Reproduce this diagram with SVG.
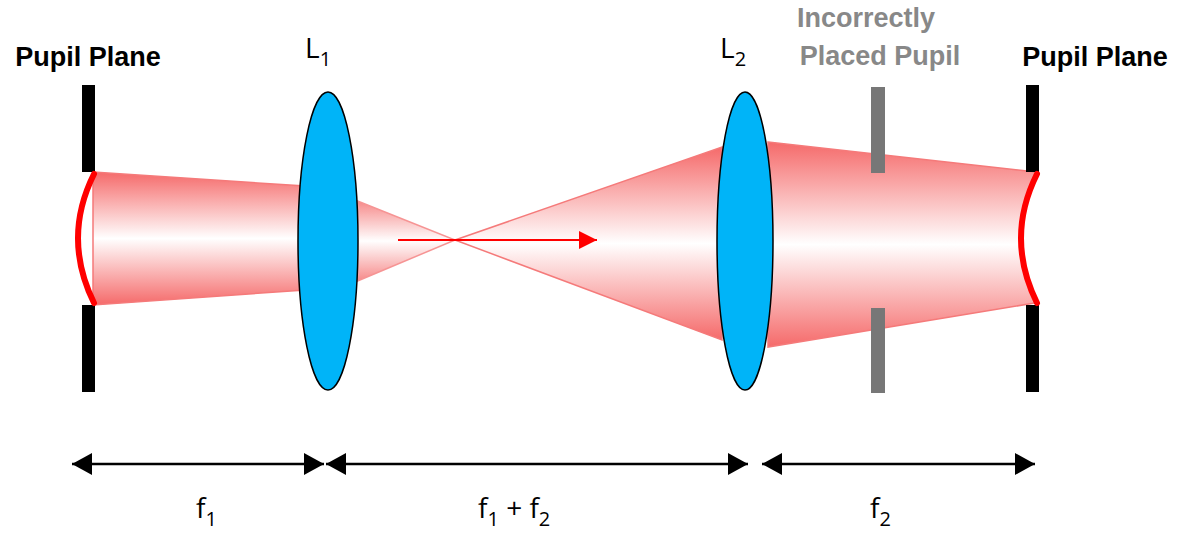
<svg xmlns="http://www.w3.org/2000/svg" width="1181" height="544" viewBox="0 0 1181 544">
<style>
.lbl{font-family:"Open Sans","Liberation Sans",sans-serif;font-size:28px;fill:#000}
.b{font-family:"Liberation Sans",Arial,sans-serif;font-weight:bold;font-size:27px}
.g{fill:#888}
.dim{stroke:#000;stroke-width:2.5;marker-start:url(#ah);marker-end:url(#ah)}
.lens{fill:#00b4f8;stroke:#000;stroke-width:1.5}
.bar{fill:#000}
.gbar{fill:#777}
.arc{fill:none;stroke:#f00;stroke-width:6;stroke-linecap:round}
</style>
<defs>
<marker id="ah" viewBox="0 0 10 10" refX="10" refY="5" markerWidth="20" markerHeight="22" orient="auto-start-reverse" markerUnits="userSpaceOnUse" preserveAspectRatio="none"><path d="M0,0L10,5L0,10z" fill="#000"/></marker>
<marker id="ra" viewBox="0 0 10 10" refX="10" refY="5" markerWidth="18" markerHeight="18" orient="auto" markerUnits="userSpaceOnUse"><path d="M0,0L10,5L0,10z" fill="#f00"/></marker>
<linearGradient id="beam" x1="0" y1="0" x2="0" y2="1">
<stop offset="0" stop-color="#f56a6a"/><stop offset="0.5" stop-color="#fff"/><stop offset="1" stop-color="#f56a6a"/></linearGradient>
</defs>
<g id="beams">
<polygon points="93,172 305,186 305,290 93,305" fill="url(#beam)" stroke="#f57a7a" stroke-width="1.5"/>
<polygon points="355,200 455,240 355,282" fill="url(#beam)" stroke="#f57a7a" stroke-width="1.5" opacity="0.8"/>
<polygon points="455,240 722,147 722,340" fill="url(#beam)" stroke="#f57a7a" stroke-width="1.5"/>
<path d="M768,142 L1035,172 Q1010,238 1035,303 L768,347z" fill="url(#beam)" stroke="#f57a7a" stroke-width="1.5"/>
</g>
<g id="pupil-left"><rect class="bar" x="82" y="85" width="13" height="87"/><rect class="bar" x="82" y="305" width="13" height="87"/><path class="arc" d="M94,174 Q62,238 94,303"/></g>
<g id="pupil-right"><rect class="bar" x="1026" y="85" width="13" height="87"/><rect class="bar" x="1026" y="305" width="13" height="87"/><path class="arc" d="M1037,174 Q1005,238 1037,303"/></g>
<g id="incorrect-pupil"><rect class="gbar" x="871" y="87" width="14" height="86"/><rect class="gbar" x="871" y="308" width="14" height="85"/></g>
<g id="L1"><ellipse class="lens" cx="328" cy="241" rx="30" ry="149"/></g>
<g id="L2"><ellipse class="lens" cx="745" cy="241" rx="28" ry="149"/></g>
<g id="connectors">
<line x1="398" y1="240" x2="597" y2="240" stroke="#f00" stroke-width="2" marker-end="url(#ra)"/>
<line class="dim" x1="72" y1="464" x2="324" y2="464"/>
<line class="dim" x1="326" y1="464" x2="748" y2="464"/>
<line class="dim" x1="762" y1="464" x2="1035" y2="464"/>
</g>
<g id="labels">
<text class="lbl b" x="88" y="66" text-anchor="middle">Pupil Plane</text>
<text class="lbl b" x="1095" y="66" text-anchor="middle">Pupil Plane</text>
<text class="lbl" x="305" y="58">L<tspan font-size="20" dy="8">1</tspan></text>
<text class="lbl" x="720" y="58">L<tspan font-size="20" dy="8">2</tspan></text>
<text class="lbl b g" x="866" y="27" text-anchor="middle">Incorrectly</text>
<text class="lbl b g" x="880" y="65" text-anchor="middle">Placed Pupil</text>
<text class="lbl" x="196" y="518">f<tspan font-size="20" dy="8">1</tspan></text>
<text class="lbl" x="478" y="518">f<tspan font-size="20" dy="8">1</tspan><tspan dy="-8"> + f</tspan><tspan font-size="20" dy="8">2</tspan></text>
<text class="lbl" x="870" y="518">f<tspan font-size="20" dy="8">2</tspan></text>
</g>
</svg>
